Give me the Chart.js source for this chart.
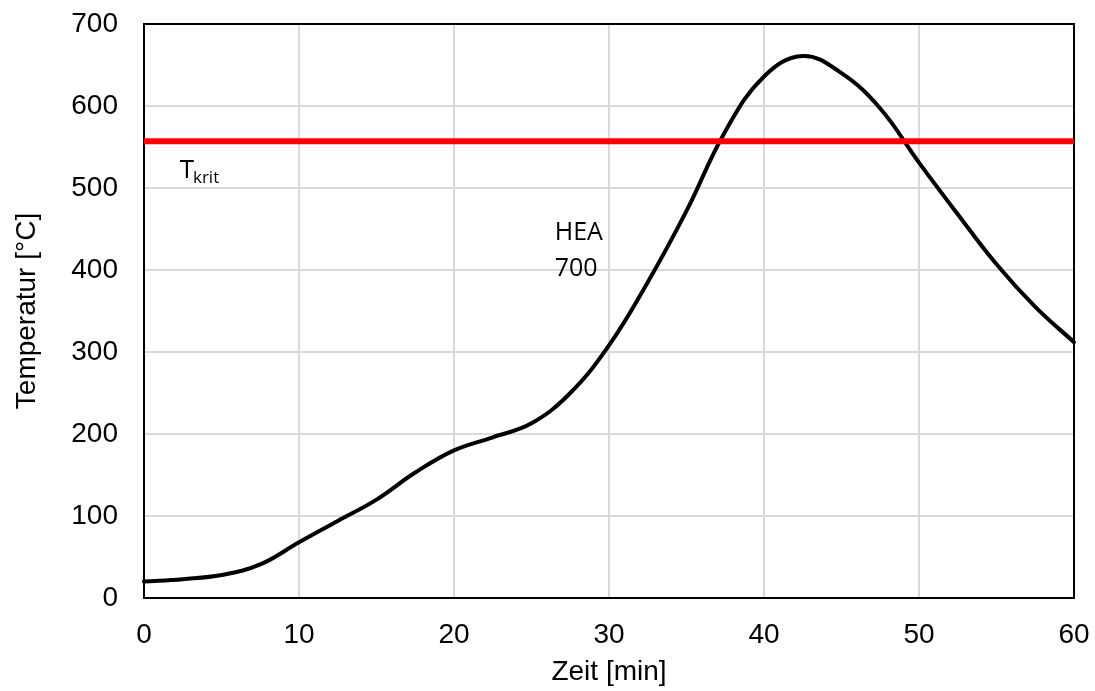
<!DOCTYPE html>
<html>
<head>
<meta charset="utf-8">
<script src="https://cdn.jsdelivr.net/npm/chart.js@4/dist/chart.umd.min.js"></script>
<style>
  html, body { margin: 0; padding: 0; background: #fff; }
  #wrap { width: 1095px; height: 691px; position: relative; }
</style>
</head>
<body>
<div id="wrap"><canvas id="c"></canvas></div>
<script>
// Data
const timeMin = [0, 2.5, 5, 7.5, 10, 12.5, 15, 17.5, 20, 22.5, 25, 27.5, 30, 32.5, 35, 37.5, 40, 42.5, 45, 47.5, 50, 52.5, 55, 57.5, 60];
const temperature = [20, 23, 28, 41, 68, 94, 120, 153, 180, 196, 213, 250, 308, 385, 472, 569, 636, 661, 640, 597, 531, 468, 407, 355, 312];
const tKrit = 557;
const xRange = [0, 60];
const yRange = [0, 700];
const xTitle = 'Zeit [min]';
const yTitle = 'Temperatur [°C]';
const seriesLabel = ['HEA', '700'];
const kritLabel = ['T', 'krit'];

const curve = timeMin.map((t, i) => ({ x: t, y: temperature[i] }));
const kritLine = xRange.map(t => ({ x: t, y: tKrit }));

const axisFont = { family: "'Liberation Sans', Arial, sans-serif", size: 28 };

const frame = {
  id: 'frame',
  beforeDatasetsDraw(chart) {
    const { ctx, chartArea: a } = chart;
    ctx.save();
    ctx.strokeStyle = '#000';
    ctx.lineWidth = 2;
    ctx.strokeRect(a.left, a.top, a.right - a.left, a.bottom - a.top);
    ctx.restore();
  }
};

const labels = {
  id: 'labels',
  afterDatasetsDraw(chart) {
    const { ctx, scales: { x, y } } = chart;
    ctx.save();
    ctx.fillStyle = '#000';
    ctx.textBaseline = 'alphabetic';
    ctx.textAlign = 'left';
    // HEA 700
    ctx.font = "25px 'Open Sans', sans-serif";
    const hx = x.getPixelForValue(26.5);
    ctx.fillText(seriesLabel[0], hx, y.getPixelForValue(437));
    ctx.fillText(seriesLabel[1], hx, y.getPixelForValue(393));
    // T krit
    const tx = x.getPixelForValue(2.3);
    const ty = y.getPixelForValue(512);
    ctx.font = "26px 'Open Sans', sans-serif";
    ctx.fillText(kritLabel[0], tx, ty);
    const tw = ctx.measureText(kritLabel[0]).width;
    ctx.font = "17px 'Open Sans', sans-serif";
    ctx.fillText(kritLabel[1], tx + tw - 1, ty + 5);
    ctx.restore();
  }
};

function noPad(scale) {
  scale.paddingTop = 0;
  scale.paddingBottom = 0;
  scale.paddingLeft = 0;
  scale.paddingRight = 0;
}

new Chart(document.getElementById('c'), {
  type: 'line',
  data: {
    datasets: [
      {
        label: 'Tkrit',
        data: kritLine,
        borderColor: '#ff0000',
        borderWidth: 6,
        pointRadius: 0,
        tension: 0,
        borderCapStyle: 'butt'
      },
      {
        label: 'HEA 700',
        data: curve,
        borderColor: '#000000',
        borderWidth: 4,
        pointRadius: 0,
        tension: 0.4,
        borderCapStyle: 'round'
      }
    ]
  },
  options: {
    responsive: true,
    maintainAspectRatio: false,
    animation: false,
    clip: false,
    layout: { padding: { top: 24, right: 21, left: 0, bottom: 0 } },
    plugins: { legend: { display: false }, tooltip: { enabled: false } },
    scales: {
      x: {
        type: 'linear',
        min: xRange[0],
        max: xRange[1],
        ticks: { stepSize: 10, color: '#000', font: axisFont, padding: 20, maxRotation: 0 },
        grid: { color: '#d9d9d9', lineWidth: 2, drawTicks: false },
        border: { display: false },
        title: { display: true, text: xTitle, color: '#000', font: axisFont, padding: { top: 0, bottom: 2 } },
        afterFit(scale) { scale.height = 93; noPad(scale); }
      },
      y: {
        type: 'linear',
        min: yRange[0],
        max: yRange[1],
        ticks: { stepSize: 100, color: '#000', font: axisFont, padding: 26 },
        grid: { color: '#d9d9d9', lineWidth: 2, drawTicks: false },
        border: { display: false },
        title: { display: true, text: yTitle, color: '#000', font: axisFont, padding: { top: 10, bottom: 0 } },
        afterFit(scale) { scale.width = 144; noPad(scale); }
      }
    }
  },
  plugins: [frame, labels]
});
</script>
</body>
</html>
